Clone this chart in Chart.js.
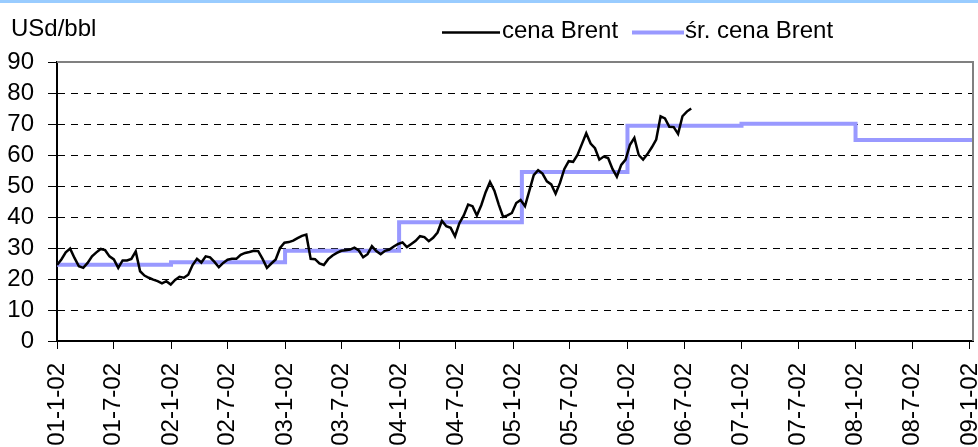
<!DOCTYPE html>
<html><head><meta charset="utf-8">
<script src="https://cdn.jsdelivr.net/npm/chart.js@4.4.1/dist/chart.umd.min.js"></script>
<style>html,body{margin:0;padding:0;background:#fff;overflow:hidden}#wrap{width:978px;height:447px;position:relative}</style>
</head><body><div id="wrap"><canvas id="c" width="978" height="447"></canvas></div>
<script>
const yUnitLabel = 'USd/bbl';
const seriesNames = ['cena Brent', 'śr. cena Brent'];
const tickLabels = ['01-1-02','01-7-02','02-1-02','02-7-02','03-1-02','03-7-02','04-1-02','04-7-02',
  '05-1-02','05-7-02','06-1-02','06-7-02','07-1-02','07-7-02','08-1-02','08-7-02','09-1-02'];
const yTicks = [0,10,20,30,40,50,60,70,80,90];
const brentStartDate = '2001-01-02';
const brentStepDays = 14;
const brentPrices = [
  24.5, 26.3, 28.6, 29.8, 26.8, 24.1, 23.6, 25.2, 27.3, 28.6,
  29.7, 29.3, 27.3, 26.3, 23.6, 26.0, 26.0, 26.5, 28.9, 22.5,
  21.1, 20.4, 19.8, 19.3, 18.6, 19.3, 18.2, 19.7, 20.7, 20.4,
  21.4, 24.5, 26.5, 25.3, 27.3, 27.0, 25.5, 23.8, 25.2, 26.2,
  26.5, 26.5, 27.8, 28.4, 28.7, 29.1, 29.0, 26.5, 23.6, 25.0,
  26.3, 30.0, 31.7, 31.9, 32.4, 33.2, 33.9, 34.3, 26.5, 26.4,
  25.0, 24.5, 26.4, 27.6, 28.4, 29.1, 29.3, 29.5, 30.1, 29.2,
  27.0, 28.0, 30.6, 29.0, 28.0, 29.1, 29.5, 30.5, 31.3, 31.8,
  30.3, 31.3, 32.3, 33.8, 33.5, 32.2, 33.3, 35.0, 38.8, 37.0,
  36.5, 33.8, 38.0, 40.5, 44.0, 43.5, 40.5, 43.8, 48.0, 51.3,
  48.5, 44.0, 40.0, 40.5, 41.3, 44.5, 45.5, 43.5, 48.5, 53.5,
  55.1, 54.0, 51.5, 50.5, 47.5, 51.0, 55.5, 58.0, 57.8, 60.0,
  63.5, 67.0, 63.7, 62.2, 58.5, 59.5, 59.0, 55.5, 53.0, 56.8,
  58.5, 63.3, 65.5, 60.0, 58.5, 60.3, 62.5, 65.0, 72.5, 71.8,
  69.1, 69.0, 66.8, 72.5, 74.0, 75.0
];
const avgPeriodStarts = ['2001-01-02','2002-01-02','2003-01-02','2004-01-02','2005-01-29','2006-01-02','2007-01-02','2008-01-02'];
const avgPrices = [24.6, 25.4, 29.1, 38.3, 54.5, 69.4, 70.1, 64.8];
const axisEndDate = '2009-01-12';

const DAY = 86400000;
const T0 = Date.UTC(2001, 0, 2);
function dayOf(iso) { const [y, m, d] = iso.split('-').map(Number); return (Date.UTC(y, m - 1, d) - T0) / DAY; }
function dayOfLabel(lbl) { const [yy, m, d] = lbl.split('-').map(Number); return (Date.UTC(2000 + yy, m - 1, d) - T0) / DAY; }
const tickDays = tickLabels.map(dayOfLabel);
const xMax = dayOf(axisEndDate);
const brentPoints = brentPrices.map((v, i) => ({ x: dayOf(brentStartDate) + i * brentStepDays, y: v }));
const avgPoints = avgPeriodStarts.map((s, i) => ({ x: dayOf(s), y: avgPrices[i] }));
avgPoints.push({ x: xMax, y: avgPrices[avgPrices.length - 1] });

const FONT = '"Liberation Sans", Arial, sans-serif';
Chart.defaults.font.family = FONT;
Chart.defaults.font.size = 24;
Chart.defaults.color = '#000';

const decorPlugin = {
  id: 'decor',
  afterDraw(chart) {
    const ctx = chart.ctx;
    const a = chart.chartArea;
    ctx.save();
    ctx.fillStyle = '#99ccff';
    ctx.fillRect(0, 0, chart.width, 3);
    ctx.strokeStyle = '#808080';
    ctx.lineWidth = 2;
    ctx.beginPath();
    ctx.moveTo(a.left, a.top);
    ctx.lineTo(a.right, a.top);
    ctx.lineTo(a.right, a.bottom);
    ctx.stroke();
    ctx.font = '24px ' + FONT;
    ctx.fillStyle = '#000';
    ctx.textAlign = 'left';
    ctx.textBaseline = 'alphabetic';
    ctx.fillText(yUnitLabel, 11, 36);
    const slots = [{ x0: 442, x1: 500, tx: 502 }, { x0: 632, x1: 684, tx: 685 }];
    chart.data.datasets.forEach((ds, i) => {
      const s = slots[i];
      ctx.strokeStyle = ds.borderColor;
      ctx.lineWidth = ds.borderWidth;
      ctx.beginPath();
      ctx.moveTo(s.x0, 32.5);
      ctx.lineTo(s.x1, 32.5);
      ctx.stroke();
      ctx.fillStyle = '#000';
      ctx.fillText(ds.label, s.tx, 38);
    });
    ctx.restore();
  }
};

new Chart(document.getElementById('c'), {
  type: 'line',
  data: {
    datasets: [
      { label: seriesNames[0], data: brentPoints, borderColor: '#000000', borderWidth: 2.5, pointRadius: 0, tension: 0 },
      { label: seriesNames[1], data: avgPoints, borderColor: '#9999ff', borderWidth: 4, pointRadius: 0, tension: 0, stepped: true }
    ]
  },
  options: {
    responsive: false,
    animation: false,
    layout: { padding: { top: 62, right: 5, left: 0, bottom: 0 } },
    plugins: { legend: { display: false }, tooltip: { enabled: false }, title: { display: false } },
    scales: {
      x: {
        type: 'linear', min: 0, max: xMax,
        afterBuildTicks: s => { s.ticks = tickDays.map(v => ({ value: v })); },
        afterFit: s => { s.height = 106; s.paddingLeft = 0; s.paddingRight = 0; },
        ticks: { autoSkip: false, minRotation: 90, maxRotation: 90, padding: 14, color: '#000',
          callback: (v, i) => tickLabels[i] },
        grid: { drawOnChartArea: false, drawTicks: true, tickLength: 8, tickColor: '#000', tickWidth: 1 },
        border: { display: true, color: '#000', width: 2 }
      },
      y: {
        type: 'linear', min: 0, max: 90,
        afterBuildTicks: s => { s.ticks = yTicks.map(v => ({ value: v })); },
        afterFit: s => { s.width = 57; s.paddingTop = 0; s.paddingBottom = 0; },
        ticks: { autoSkip: false, padding: 14, color: '#000', callback: v => String(v) },
        grid: {
          color: c => (c.tick && (c.tick.value === 0 || c.tick.value === 90)) ? 'rgba(0,0,0,0)' : '#000',
          lineWidth: 1, tickLength: 9, tickColor: '#000', tickWidth: 1
        },
        border: { display: true, color: '#000', width: 2, dash: [7, 6] }
      }
    }
  },
  plugins: [decorPlugin]
});
</script></body></html>
